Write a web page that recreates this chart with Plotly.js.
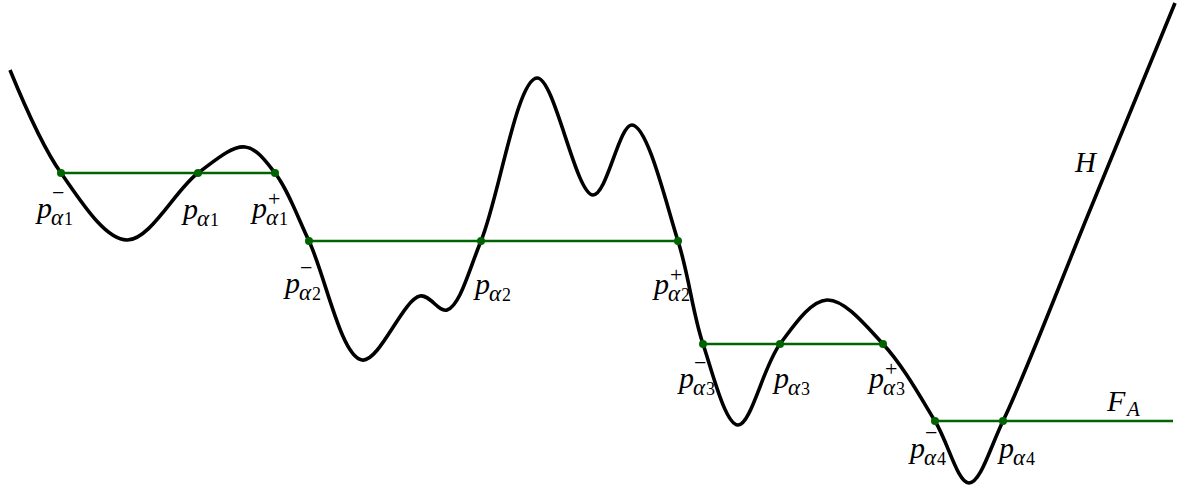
<!DOCTYPE html>
<html><head><meta charset="utf-8">
<script src="https://cdn.plot.ly/plotly-3.0.1.min.js"></script>
<style>html,body{margin:0;padding:0;background:#fff}#chart{width:1188px;height:491px}</style>
</head><body><div id="chart"></div>
<script>
// Curve H (drawing units: x right, y down)
const curveX = [10,61,127,198,245,275,309,362,420,447,481,537,593,632,678,703,738,780,827,883,935,969,1003,1090,1175];
const curveY = [70,173,240,173,147,173,241,360,296,310,241,78,195,125,241,344,425,344,300,344,421,483,421,210,3];
// Levels (green segments) and points on them
const levelY = [173,241,344,421];
const segStart = [61,309,703,935];
const segEnd = [275,678,883,1173];
const pointMinusX = [61,309,703,935];
const pointX = [198,481,780,1003];
const pointPlusX = [275,678,883,null];
const subDigits = ['1','2','3','4'];

const traces = [];
traces.push({x:curveX,y:curveY,mode:'lines',line:{color:'#000',width:3.6,shape:'spline',smoothing:1.0},hoverinfo:'skip'});
for(let i=0;i<levelY.length;i++){
  traces.push({x:[segStart[i],segEnd[i]],y:[levelY[i],levelY[i]],mode:'lines',line:{color:'#006400',width:2.6},hoverinfo:'skip'});
  const px=[pointMinusX[i],pointX[i]]; if(pointPlusX[i]!==null) px.push(pointPlusX[i]);
  traces.push({x:px,y:px.map(()=>levelY[i]),mode:'markers',marker:{color:'#006400',size:8},hoverinfo:'skip'});
}

const ann=[];
const serif='Liberation Serif, DejaVu Serif, serif';
function label(x,y,digit,sign){
  ann.push({x:x,y:y,text:'<i>p</i>',showarrow:false,xanchor:'left',yanchor:'middle',font:{family:serif,size:30,color:'#000'}});
  ann.push({x:x+16,y:y+10,text:'<i>α</i>',showarrow:false,xanchor:'left',yanchor:'middle',font:{family:serif,size:23,color:'#000'}});
  ann.push({x:x+29,y:y+12,text:digit,showarrow:false,xanchor:'left',yanchor:'middle',font:{family:serif,size:18,color:'#000'}});
  if(sign==='−') ann.push({x:x+17,y:y-15,text:sign,showarrow:false,xanchor:'left',yanchor:'middle',font:{family:serif,size:22,color:'#000'}});
  if(sign==='+') ann.push({x:x+18,y:y-9,text:sign,showarrow:false,xanchor:'left',yanchor:'middle',font:{family:serif,size:22,color:'#000'}});
}
// label placement offsets relative to points
const offMinus=[[-28,34],[-28,41],[-28,33],[-29,26]];
const offMid=[[-19,35],[-10,42],[-10,33],[-8,26]];
const offPlus=[[-27,34],[-28,42],[-18,33]];
for(let i=0;i<4;i++){
  label(pointMinusX[i]+offMinus[i][0],levelY[i]+offMinus[i][1],subDigits[i],'−');
  label(pointX[i]+offMid[i][0],levelY[i]+offMid[i][1],subDigits[i],null);
  if(pointPlusX[i]!==null) label(pointPlusX[i]+offPlus[i][0],levelY[i]+offPlus[i][1],subDigits[i],'+');
}
ann.push({x:1104,y:400,text:'<i>F</i>',showarrow:false,xanchor:'left',yanchor:'middle',font:{family:serif,size:30,color:'#000'}});
ann.push({x:1123,y:409,text:'<i>A</i>',showarrow:false,xanchor:'left',yanchor:'middle',font:{family:serif,size:21,color:'#000'}});
ann.push({x:1072,y:162,text:'<i>H</i>',showarrow:false,xanchor:'left',yanchor:'middle',font:{family:serif,size:29,color:'#000'}});

const layout={width:1188,height:491,margin:{l:0,r:0,t:0,b:0},paper_bgcolor:'#fff',plot_bgcolor:'#fff',showlegend:false,
  xaxis:{range:[0,1188],visible:false,fixedrange:true},
  yaxis:{range:[491,0],visible:false,fixedrange:true},
  annotations:ann};
Plotly.newPlot('chart',traces,layout,{staticPlot:true,displayModeBar:false});
</script></body></html>
